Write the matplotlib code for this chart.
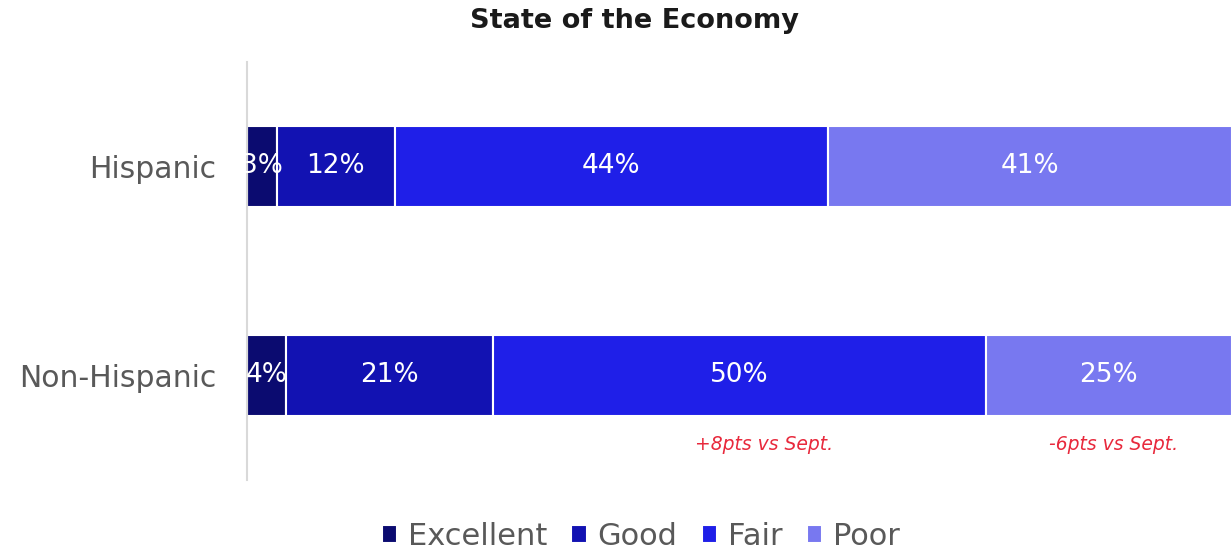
import matplotlib
matplotlib.use("Agg")
import matplotlib.pyplot as plt
import numpy as np

plt.rcParams['font.family'] = ['DejaVu Sans']

groups = ['Non-Hispanic', 'Hispanic']
ratings = ['Excellent', 'Good', 'Fair', 'Poor']
excellent = [4, 3]
good = [21, 12]
fair = [50, 44]
poor = [25, 41]
colors = ['#0b0b70', '#1212b2', '#1f1fe8', '#7878f0']

# change vs September for the Non-Hispanic row
notes = ['+8pts vs Sept.', '-6pts vs Sept.']
note_x = [52.5, 88]

fig = plt.figure(figsize=(12.32, 5.51), dpi=100)
ax = fig.add_axes([0.2005, 0.129, 0.7995, 0.7585])

y = np.arange(len(groups))
left = np.zeros(len(groups))
for name, vals, c in zip(ratings, [excellent, good, fair, poor], colors):
    vals = np.array(vals, dtype=float)
    ax.barh(y, vals, left=left, height=0.39, color=c, edgecolor='white',
            linewidth=1.5, label=name)
    for yi, (l, v) in enumerate(zip(left, vals)):
        ax.text(l + v / 2, yi, f'{int(v)}%', ha='center', va='center',
                color='white', fontsize=19)
    left += vals

for txt, xx in zip(notes, note_x):
    ax.text(xx, -0.33, txt, ha='center', va='center', color='#e8293c',
            fontsize=13.5, style='italic')

ax.set_xlim(0, 100)
ax.set_ylim(-0.5, 1.5)
ax.set_yticks(y)
ax.set_yticklabels(groups, fontsize=21.5, color='#595959')
ax.tick_params(axis='y', length=0, pad=22)
ax.set_xticks([])
for s in ['top', 'right', 'bottom']:
    ax.spines[s].set_visible(False)
ax.spines['left'].set_color('#d9d9d9')
ax.spines['left'].set_linewidth(1.5)

fig.suptitle('State of the Economy', x=0.515, y=0.985, fontsize=19.5,
             fontweight='bold', color='#1a1a1a')

leg = fig.legend(loc='lower center', bbox_to_anchor=(0.52, -0.05), ncol=4,
                 frameon=False, fontsize=22, handlelength=0.5,
                 handleheight=0.5, handletextpad=0.35, columnspacing=0.8)
for t in leg.get_texts():
    t.set_color('#595959')

fig.savefig('out.png', dpi=100)
